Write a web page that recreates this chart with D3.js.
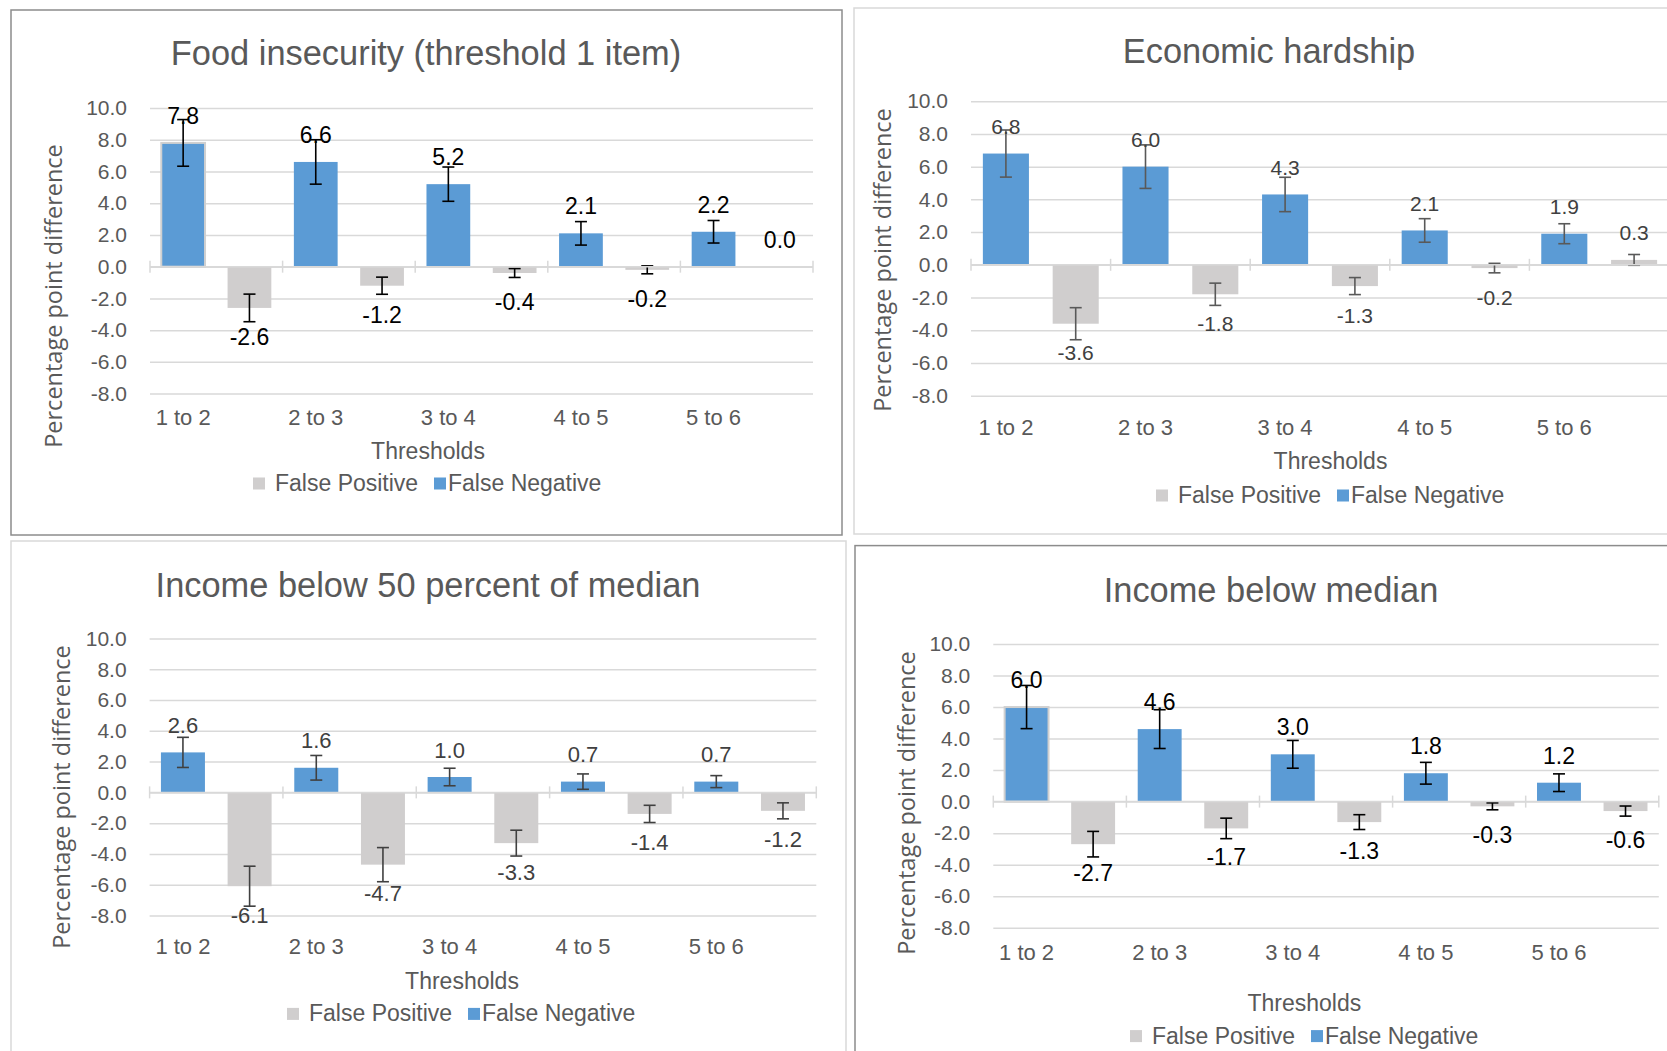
<!DOCTYPE html>
<html>
<head>
<meta charset="utf-8">
<script src="https://cdn.jsdelivr.net/npm/d3@7"></script>
<style>
  html, body { margin: 0; padding: 0; background: #fff; }
  svg { display: block; }
</style>
</head>
<body>
<script>
// Shared categories / series / ticks
const categories = ["1 to 2", "2 to 3", "3 to 4", "4 to 5", "5 to 6"];
const seriesNames = ["False Positive", "False Negative"];
const yTicks = [10, 8, 6, 4, 2, 0, -2, -4, -6, -8];

// Food insecurity (threshold 1 item)
const foodFN = [7.8, 6.6, 5.2, 2.1, 2.2];
const foodFNErr = [1.47, 1.4, 1.08, 0.74, 0.71];
const foodFP = [-2.6, -1.2, -0.4, -0.2, 0.0];
const foodFPErr = [0.87, 0.54, 0.28, 0.25, 0];

// Economic hardship
const hardFN = [6.8, 6.0, 4.3, 2.1, 1.9];
const hardFNErr = [1.44, 1.33, 1.05, 0.72, 0.61];
const hardFP = [-3.6, -1.8, -1.3, -0.2, 0.3];
const hardFPErr = [0.98, 0.68, 0.52, 0.29, 0.33];

// Income below 50 percent of median
const inc50FN = [2.6, 1.6, 1.0, 0.7, 0.7];
const inc50FNErr = [0.98, 0.8, 0.57, 0.5, 0.39];
const inc50FP = [-6.1, -4.7, -3.3, -1.4, -1.2];
const inc50FPErr = [1.3, 1.11, 0.84, 0.56, 0.52];

// Income below median
const medFN = [6.0, 4.6, 3.0, 1.8, 1.2];
const medFNErr = [1.37, 1.23, 0.88, 0.69, 0.56];
const medFP = [-2.7, -1.7, -1.3, -0.3, -0.6];
const medFPErr = [0.81, 0.65, 0.47, 0.22, 0.32];

const COLORS = { fn: "#5B9BD5", fp: "#D0CECE" };
const TEXT_GREY = "#595959";
const FONT = "'Liberation Sans', Arial, sans-serif";

// layout for each of the four panels (positions taken off the original figure)
const panels = [
  {
    title: "Food insecurity (threshold 1 item)", fn: foodFN, fnErr: foodFNErr, fp: foodFP, fpErr: foodFPErr,
    box: [11, 10, 831, 525], border: "#8c8c8c",
    plot: [150, 108, 813, 393.6], titleAt: [426, 53], catY: 417,
    axisTitleAt: [428, 451], legendAt: [253, 483], yTitleAt: [52.5, 296],
    labelColor: "#000", errColor: "#000", labelSize: 23, outlineFirst: true
  },
  {
    title: "Economic hardship", fn: hardFN, fnErr: hardFNErr, fp: hardFP, fpErr: hardFPErr,
    box: [854, 8, 840, 526], border: "#d9d9d9",
    plot: [971, 101.2, 1669, 395.7], titleAt: [1269, 50.5], catY: 427,
    axisTitleAt: [1330.5, 461.4], legendAt: [1156, 495], yTitleAt: [882, 260],
    labelColor: "#404040", errColor: "#595959", labelSize: 21, outlineFirst: false
  },
  {
    title: "Income below 50 percent of median", fn: inc50FN, fnErr: inc50FNErr, fp: inc50FP, fpErr: inc50FPErr,
    box: [11, 541, 835, 540], border: "#d9d9d9",
    plot: [149.6, 638.6, 816.3, 915.4], titleAt: [428, 584.5], catY: 946,
    axisTitleAt: [462, 980.5], legendAt: [287, 1013.4], yTitleAt: [61, 797],
    labelColor: "#404040", errColor: "#404040", labelSize: 22, outlineFirst: false
  },
  {
    title: "Income below median", fn: medFN, fnErr: medFNErr, fp: medFP, fpErr: medFPErr,
    box: [855, 545.6, 840, 540], border: "#8c8c8c",
    plot: [993.3, 644, 1658.8, 927.7], titleAt: [1271, 590], catY: 952,
    axisTitleAt: [1304.4, 1003.4], legendAt: [1130, 1035.6], yTitleAt: [906, 803],
    labelColor: "#000", errColor: "#000", labelSize: 23, outlineFirst: true
  }
];

const svg = d3.select("body").append("svg")
  .attr("width", 1667)
  .attr("height", 1051)
  .attr("font-family", FONT);

function drawPanel(p) {
  const g = svg.append("g");
  const [px0, py0, px1, py1] = p.plot;

  // border
  g.append("rect")
    .attr("x", p.box[0]).attr("y", p.box[1])
    .attr("width", p.box[2]).attr("height", p.box[3])
    .attr("fill", "none").attr("stroke", p.border).attr("stroke-width", 1.5);

  const y = d3.scaleLinear().domain([-8, 10]).range([py1, py0]);
  const x = d3.scaleBand().domain(categories).range([px0, px1]).padding(0);
  const sub = d3.scaleBand().domain(["fn", "fp"]).range([0, x.bandwidth()])
    .paddingInner(0.34).paddingOuter(0.17);

  // gridlines
  g.append("g")
    .attr("transform", `translate(${px0},0)`)
    .call(d3.axisLeft(y).tickValues(yTicks).tickSize(-(px1 - px0)).tickFormat(""))
    .call(a => a.select(".domain").remove())
    .call(a => a.selectAll("line").attr("stroke", "#d9d9d9").attr("stroke-width", 1.5));

  // y tick labels
  g.append("g")
    .attr("transform", `translate(${px0},0)`)
    .call(d3.axisLeft(y).tickValues(yTicks).tickSize(0).tickPadding(23)
      .tickFormat(d => d.toFixed(1)))
    .call(a => a.select(".domain").remove())
    .call(a => a.selectAll("text")
      .attr("font-family", FONT).attr("font-size", 21).attr("fill", TEXT_GREY));

  // bars
  const rows = categories.map((c, i) => ({
    cat: c,
    bars: [
      { key: "fn", v: p.fn[i], e: p.fnErr[i], i },
      { key: "fp", v: p.fp[i], e: p.fpErr[i], i }
    ]
  }));

  const groups = g.append("g").selectAll("g")
    .data(rows)
    .join("g")
    .attr("transform", d => `translate(${x(d.cat)},0)`);

  groups.selectAll("rect")
    .data(d => d.bars)
    .join("rect")
    .attr("x", d => sub(d.key))
    .attr("width", sub.bandwidth())
    .attr("y", d => y(Math.max(0, d.v)))
    .attr("height", d => Math.abs(y(d.v) - y(0)))
    .attr("fill", d => COLORS[d.key])
    .attr("stroke", d => (p.outlineFirst && d.key === "fn" && d.i === 0) ? "#d0d0d0" : "none")
    .attr("stroke-width", 2);

  // zero axis line with category tick marks
  g.append("line")
    .attr("x1", px0).attr("x2", px1)
    .attr("y1", y(0)).attr("y2", y(0))
    .attr("stroke", "#d9d9d9").attr("stroke-width", 1.5);
  g.append("g").selectAll("line")
    .data(d3.range(categories.length + 1))
    .join("line")
    .attr("x1", i => px0 + i * x.step()).attr("x2", i => px0 + i * x.step())
    .attr("y1", y(0) - 6).attr("y2", y(0) + 6)
    .attr("stroke", "#d9d9d9").attr("stroke-width", 1.5);

  // error bars
  const err = groups.selectAll("g.err")
    .data(d => d.bars.filter(b => b.e > 0))
    .join("g")
    .attr("class", "err")
    .attr("stroke", p.errColor)
    .attr("stroke-width", 1.6);
  const cx = d => sub(d.key) + sub.bandwidth() / 2;
  err.append("line")
    .attr("x1", cx).attr("x2", cx)
    .attr("y1", d => y(d.v + d.e)).attr("y2", d => y(d.v - d.e));
  err.append("line")
    .attr("x1", d => cx(d) - 6).attr("x2", d => cx(d) + 6)
    .attr("y1", d => y(d.v + d.e)).attr("y2", d => y(d.v + d.e));
  err.append("line")
    .attr("x1", d => cx(d) - 6).attr("x2", d => cx(d) + 6)
    .attr("y1", d => y(d.v - d.e)).attr("y2", d => y(d.v - d.e));

  // data labels
  groups.selectAll("text.lab")
    .data(d => d.bars)
    .join("text")
    .attr("class", "lab")
    .attr("x", cx)
    .attr("y", d => d.v >= 0 ? y(d.v) - 27 : y(d.v) + 29)
    .attr("text-anchor", "middle")
    .attr("dominant-baseline", "central")
    .attr("font-size", p.labelSize)
    .attr("fill", p.labelColor)
    .text(d => d.v.toFixed(1));

  // category labels, centred under the first bar of each pair
  g.append("g").selectAll("text")
    .data(categories)
    .join("text")
    .attr("x", c => x(c) + sub("fn") + sub.bandwidth() / 2)
    .attr("y", p.catY)
    .attr("text-anchor", "middle")
    .attr("dominant-baseline", "central")
    .attr("font-size", 22)
    .attr("fill", TEXT_GREY)
    .text(c => c);

  // title
  g.append("text")
    .attr("x", p.titleAt[0]).attr("y", p.titleAt[1])
    .attr("text-anchor", "middle")
    .attr("dominant-baseline", "central")
    .attr("font-size", 34.4)
    .attr("fill", TEXT_GREY)
    .text(p.title);

  // x axis title
  g.append("text")
    .attr("x", p.axisTitleAt[0]).attr("y", p.axisTitleAt[1])
    .attr("text-anchor", "middle")
    .attr("dominant-baseline", "central")
    .attr("font-size", 23)
    .attr("fill", TEXT_GREY)
    .text("Thresholds");

  // y axis title
  g.append("text")
    .attr("transform", `translate(${p.yTitleAt[0]},${p.yTitleAt[1]}) rotate(-90)`)
    .attr("text-anchor", "middle")
    .attr("dominant-baseline", "central")
    .attr("font-family", "'Open Sans', sans-serif")
    .attr("font-size", 23.5)
    .attr("fill", TEXT_GREY)
    .text("Percentage point difference");

  // legend: False Positive then False Negative
  const legend = [
    { name: seriesNames[0], color: COLORS.fp, sq: 0, tx: 22 },
    { name: seriesNames[1], color: COLORS.fn, sq: 181, tx: 195 }
  ];
  const [lx, ly] = p.legendAt;
  const lg = g.append("g").selectAll("g").data(legend).join("g");
  lg.append("rect")
    .attr("x", d => lx + d.sq).attr("y", ly - 5.5)
    .attr("width", 12).attr("height", 12)
    .attr("fill", d => d.color);
  lg.append("text")
    .attr("x", d => lx + d.tx).attr("y", ly)
    .attr("dominant-baseline", "central")
    .attr("font-size", 23)
    .attr("fill", TEXT_GREY)
    .text(d => d.name);
}

panels.forEach(drawPanel);
</script>
</body>
</html>
